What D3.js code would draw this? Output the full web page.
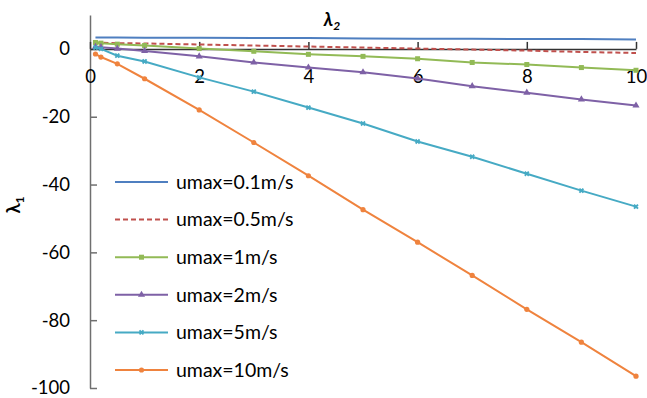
<!DOCTYPE html>
<html>
<head>
<meta charset="utf-8">
<script src="https://cdn.jsdelivr.net/npm/d3@7"></script>
<style>
  html, body { margin: 0; padding: 0; background: #fff; }
  svg { display: block; }
  text { font-family: Lato, "Open Sans", sans-serif; fill: #000; }
</style>
</head>
<body>
<svg id="chart" width="647" height="398"></svg>
<script>
// λ2 sample points shared by every series
const lambda2 = [0.1, 0.2, 0.5, 1, 2, 3, 4, 5, 6, 7, 8, 9, 10];

// λ1 for each umax
const u01  = [3.4, 3.4, 3.4, 3.3, 3.3, 3.2, 3.2, 3.1, 3.0, 3.0, 2.9, 2.9, 2.8];
const u05  = [1.9, 1.8, 1.7, 1.6, 1.3, 1.0, 0.7, 0.4, 0.1, -0.2, -0.5, -0.9, -1.2];
const u1   = [1.9, 1.7, 1.4, 1.0, 0.1, -0.7, -1.6, -2.2, -2.9, -4.0, -4.6, -5.5, -6.3];
const u2   = [0.6, 0.5, 0.1, -0.6, -2.2, -4.0, -5.5, -6.9, -8.7, -11.0, -12.9, -14.9, -16.7];
const u5   = [0.4, 0.0, -2.0, -3.7, -8.4, -12.6, -17.3, -22.0, -27.3, -31.8, -36.8, -41.8, -46.5];
const u10  = [-1.5, -2.4, -4.4, -8.8, -18.0, -27.6, -37.4, -47.4, -57.0, -66.8, -76.8, -86.5, -96.5];

const seriesNames = ["umax=0.1m/s", "umax=0.5m/s", "umax=1m/s", "umax=2m/s", "umax=5m/s", "umax=10m/s"];
const seriesValues = [u01, u05, u1, u2, u5, u10];

const xTicks = [0, 2, 4, 6, 8, 10];
const yTicks = [0, -20, -40, -60, -80, -100];

const styles = [
  { color: "#4F7FC0", dash: null,  marker: null },
  { color: "#C0504D", dash: "5,3", marker: null },
  { color: "#92BA56", dash: null,  marker: "square" },
  { color: "#7E61A6", dash: null,  marker: "triangle" },
  { color: "#46AAC4", dash: null,  marker: "cross" },
  { color: "#EF833E", dash: null,  marker: "circle" }
];

const FS = 18.5;       // tick labels and titles
const LEG_FS = 19.5;   // legend entries
const svg = d3.select("#chart");
const x = d3.scaleLinear().domain([0, 10]).range([90, 636]);
const y = d3.scaleLinear().domain([-100, 10]).range([388, 15]);

const axisColor = "#6f6f6f";

// y axis with inward ticks
const yAxis = svg.append("g").attr("transform", `translate(${x(0)},0)`)
  .call(d3.axisLeft(y).tickValues(yTicks).tickFormat(d => String(d))
    .tickSizeInner(-7).tickSizeOuter(0).tickPadding(20));
yAxis.select(".domain").attr("stroke", axisColor).attr("stroke-width", 1.5);
yAxis.selectAll(".tick line").attr("stroke", axisColor).attr("stroke-width", 1.5);
yAxis.selectAll(".tick text").attr("font-size", FS).attr("font-family", "Lato, sans-serif").attr("fill", "#000");

// x axis crossing at λ1 = 0, ticks pointing up
const xAxis = svg.append("g").attr("transform", `translate(0,${y(0)})`)
  .call(d3.axisTop(x).tickValues(xTicks).tickSizeInner(7).tickSizeOuter(0).tickFormat(d => String(d)));
xAxis.select(".domain").attr("stroke", "#333").attr("stroke-width", 1.5);
xAxis.selectAll(".tick line").attr("stroke", "#333").attr("stroke-width", 1.5);
xAxis.selectAll(".tick text")
  .attr("font-size", FS).attr("font-family", "Lato, sans-serif").attr("fill", "#000")
  .attr("y", 28).attr("dy", "0.32em");

function drawMarker(g, type, cx, cy, color) {
  if (type === "square") {
    g.append("rect").attr("x", cx - 2.5).attr("y", cy - 2.5).attr("width", 5).attr("height", 5).attr("fill", color);
  } else if (type === "triangle") {
    g.append("path").attr("d", d3.symbol(d3.symbolTriangle, 22)()).attr("transform", `translate(${cx},${cy})`).attr("fill", color);
  } else if (type === "cross") {
    g.append("path").attr("d", d3.symbol(d3.symbolCross, 18)()).attr("transform", `translate(${cx},${cy}) rotate(45)`).attr("fill", color);
  } else if (type === "circle") {
    g.append("circle").attr("cx", cx).attr("cy", cy).attr("r", 2.6).attr("fill", color);
  }
}

const line = d3.line().x(d => x(d[0])).y(d => y(d[1]));
const plot = svg.append("g");

seriesValues.forEach((vals, i) => {
  const st = styles[i];
  const pts = lambda2.map((v, j) => [v, vals[j]]);
  plot.append("path").datum(pts)
    .attr("d", line).attr("fill", "none")
    .attr("stroke", st.color).attr("stroke-width", 2)
    .attr("stroke-dasharray", st.dash);
  if (st.marker) {
    const mg = plot.append("g");
    pts.forEach(p => drawMarker(mg, st.marker, x(p[0]), y(p[1]), st.color));
  }
});

// legend
const legend = svg.append("g");
seriesNames.forEach((name, i) => {
  const st = styles[i];
  const ly = 182 + i * 37.6;
  legend.append("line").attr("x1", 115).attr("x2", 168).attr("y1", ly).attr("y2", ly)
    .attr("stroke", st.color).attr("stroke-width", 2).attr("stroke-dasharray", st.dash);
  if (st.marker) drawMarker(legend, st.marker, 141.5, ly, st.color);
  legend.append("text").attr("x", 176).attr("y", ly).attr("dy", "0.35em")
    .attr("font-size", LEG_FS).text(name);
});

// axis titles
const t2 = svg.append("text").attr("x", 332).attr("y", 20).attr("dy", "0.35em")
  .attr("text-anchor", "middle").attr("font-size", FS).attr("font-weight", "bold").attr("font-style", "italic");
t2.append("tspan").text("λ");
t2.append("tspan").attr("font-size", 12).attr("dy", "0.3em").text("2");

const t1 = svg.append("text").attr("transform", "translate(14,205) rotate(-90)")
  .attr("text-anchor", "middle").attr("dy", "0.35em").attr("font-size", FS).attr("font-weight", "bold");
t1.append("tspan").text("λ");
t1.append("tspan").attr("font-size", 12).attr("dy", "0.3em").text("1");
</script>
</body>
</html>
